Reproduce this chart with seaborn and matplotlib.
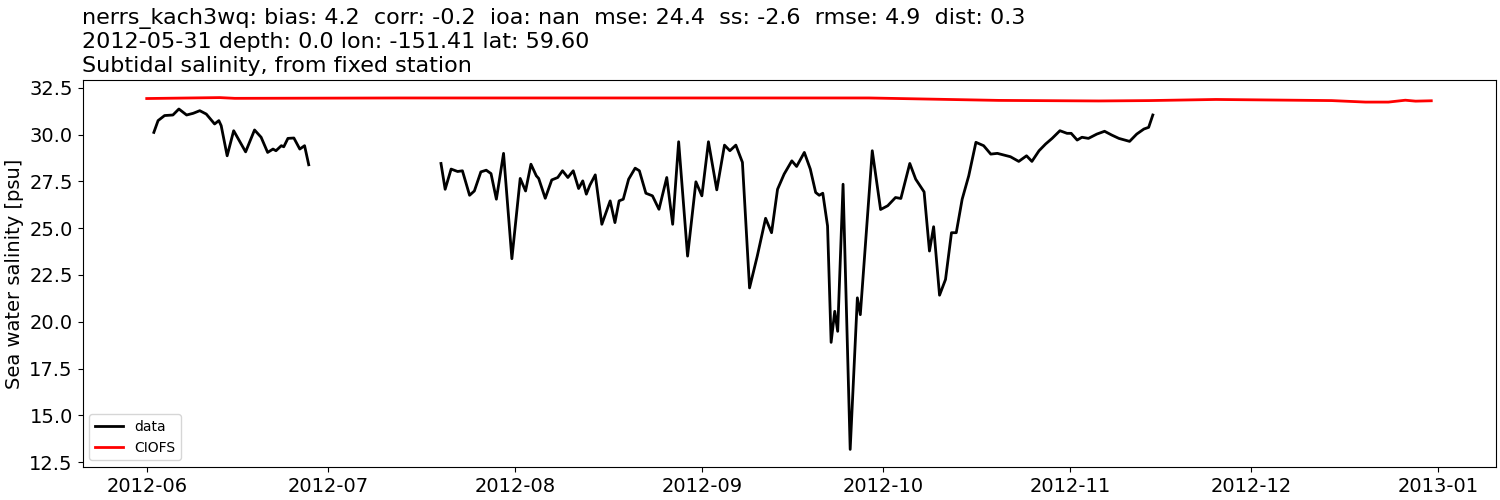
import pandas as pd
import seaborn as sns
import matplotlib.pyplot as plt

start = pd.Timestamp('2012-06-01')

# observed salinity, two pieces (days after 2012-06-01)
obs1_day = [1.18, 1.88, 2.96, 4.34, 5.33, 6.61, 7.70, 8.79, 9.87, 11.25, 11.95, 12.34, 13.33,
            14.41, 16.39, 17.87, 18.96, 20.04, 20.93, 21.42, 22.31, 22.71, 23.40, 24.39, 25.37,
            26.16, 26.85]
obs1_salt = [30.12, 30.75, 31.02, 31.05, 31.37, 31.05, 31.14, 31.28, 31.10, 30.57, 30.75, 30.48,
             28.87, 30.21, 29.08, 30.25, 29.86, 29.05, 29.23, 29.14, 29.41, 29.35, 29.80, 29.82,
             29.23, 29.41, 28.39]

obs2_day = [48.77, 49.46, 50.45, 51.53, 52.32, 53.51, 54.30, 55.38, 56.27, 57.06, 57.95, 59.14,
            60.52, 61.90, 62.79, 63.68, 64.57, 64.96, 66.05, 67.13, 68.12, 68.91, 69.80, 70.69,
            71.58, 72.27, 72.86, 73.45, 74.34, 75.43, 76.81, 77.60, 78.29, 78.98, 79.87, 80.95,
            81.65, 82.73, 83.82, 84.90, 86.19, 87.17, 88.16, 89.64, 91.02, 92.01, 93.10, 94.48,
            95.76, 96.65, 97.64, 98.73, 99.91, 101.19, 102.57, 103.56, 104.55, 105.64, 106.92,
            107.71, 108.99, 109.98, 110.87, 111.46, 112.05, 112.84, 113.43, 114.03, 114.52,
            115.41, 116.59, 117.78, 118.27, 120.25, 121.63, 122.81, 124.10, 124.99, 126.47,
            127.45, 128.84, 129.73, 130.42, 131.40, 132.39, 133.38, 134.17, 135.15, 136.24,
            137.43, 138.71, 139.89, 140.98, 143.15, 144.53, 145.82, 146.71, 147.89, 148.98,
            150.06, 151.35, 152.53, 153.22, 154.21, 155.00, 156.08, 157.47, 158.75, 159.93,
            161.12, 162.90, 164.08, 165.27, 166.06, 166.75]
obs2_salt = [28.46, 27.08, 28.16, 28.03, 28.07, 26.76, 26.99, 28.01, 28.10, 27.92, 26.55, 29.00,
             23.37, 27.66, 26.99, 28.42, 27.80, 27.66, 26.60, 27.58, 27.71, 28.07, 27.71, 28.07,
             27.12, 27.53, 26.82, 27.30, 27.85, 25.21, 26.46, 25.30, 26.46, 26.55, 27.62, 28.21,
             28.07, 26.87, 26.73, 26.01, 27.71, 25.21, 29.62, 23.51, 27.48, 26.73, 29.62, 27.05,
             29.44, 29.14, 29.44, 28.52, 21.81, 23.51, 25.53, 24.76, 27.08, 27.89, 28.60, 28.30,
             29.05, 28.16, 26.91, 26.76, 26.87, 25.12, 18.90, 20.56, 19.49, 27.35, 13.18, 21.28,
             20.38, 29.14, 26.00, 26.20, 26.64, 26.59, 28.46, 27.62, 26.94, 23.78, 25.08, 21.42,
             22.26, 24.76, 24.76, 26.55, 27.80, 29.59, 29.41, 28.96, 29.00, 28.82, 28.57, 28.87,
             28.57, 29.14, 29.50, 29.80, 30.21, 30.07, 30.07, 29.71, 29.86, 29.80, 30.03, 30.18,
             29.98, 29.80, 29.64, 30.03, 30.30, 30.39, 31.05]

# model (CIOFS)
model_day = [0, 12.1, 14.6, 41.9, 119.7, 132.9, 141.2, 157.8, 166.1, 177.2, 196.4, 202.0,
             205.8, 208.6, 210.3, 212.9]
model_salt = [31.93, 31.98, 31.94, 31.96, 31.96, 31.88, 31.83, 31.80, 31.82, 31.88, 31.82,
              31.74, 31.74, 31.84, 31.79, 31.81]

title = ('nerrs_kach3wq: bias: 4.2  corr: -0.2  ioa: nan  mse: 24.4  ss: -2.6  rmse: 4.9  dist: 0.3\n'
         '2012-05-31 depth: 0.0 lon: -151.41 lat: 59.60\n'
         'Subtidal salinity, from fixed station')


def to_df(days, vals):
    return pd.DataFrame({'time': start + pd.to_timedelta(days, unit='D'), 'salt': vals})


fig, ax = plt.subplots(figsize=(15, 5), dpi=100)
fig.subplots_adjust(left=0.055, right=0.997, top=0.84, bottom=0.066)

sns.lineplot(x='time', y='salt', data=to_df(obs1_day, obs1_salt), color='k', lw=2, label='data', ax=ax)
sns.lineplot(x='time', y='salt', data=to_df(obs2_day, obs2_salt), color='k', lw=2, ax=ax)
sns.lineplot(x='time', y='salt', data=to_df(model_day, model_salt), color='r', lw=2, label='CIOFS', ax=ax)

ax.set_title(title, loc='left', fontsize=16)
ax.set_xlabel('')
ax.set_ylabel('Sea water salinity [psu]', fontsize=14)
ax.tick_params(labelsize=14)
ax.set_yticks([12.5, 15.0, 17.5, 20.0, 22.5, 25.0, 27.5, 30.0, 32.5])
ax.legend(loc='lower left', fontsize=10)

plt.savefig('out.png')
